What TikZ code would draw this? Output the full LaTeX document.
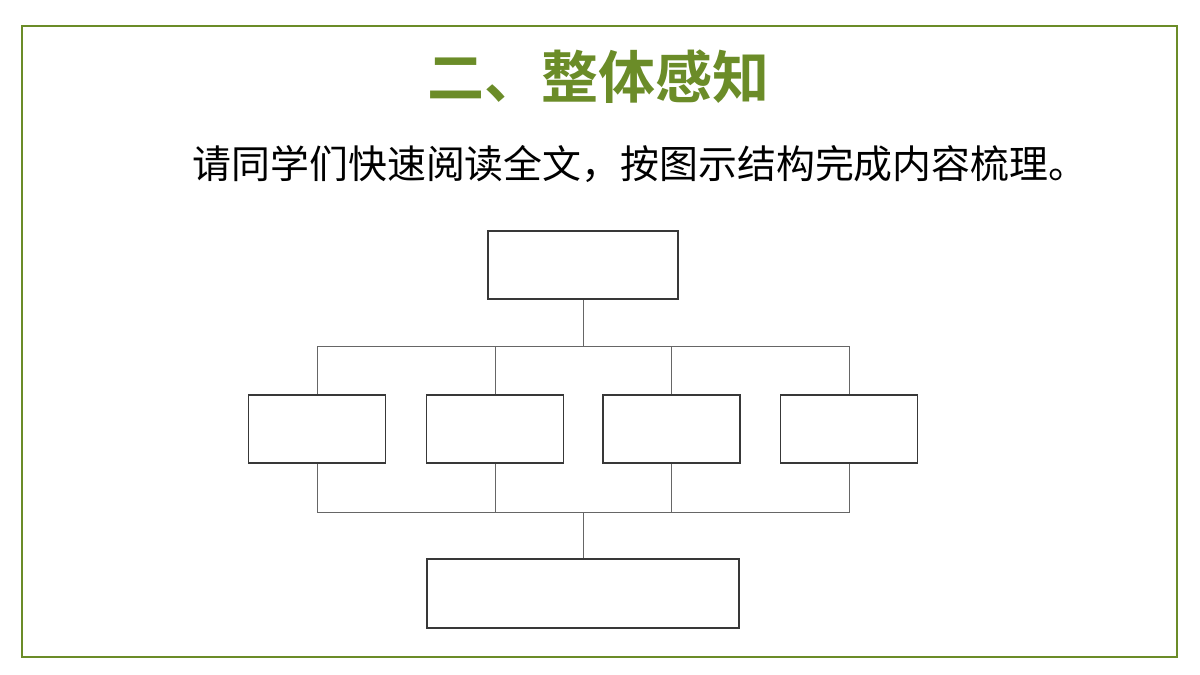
\documentclass[tikz,border=0pt]{standalone}
\usepackage{fontspec}
\newfontfamily\cjksans{Noto Sans CJK SC}
\newfontfamily\cjkbold{Noto Sans CJK SC Bold}
\definecolor{olivegreen}{RGB}{107,140,40}
\tikzset{
  caja/.style={draw=black!78, line width=1.9pt, minimum height=68pt, inner sep=0pt},
  linea/.style={draw=black!60, line width=0.9pt}
}
\begin{document}
\begin{tikzpicture}[x=1pt, y=-1pt]
        \useasboundingbox (0,0) rectangle (1200,675);
        % marco
        \draw[olivegreen, line width=2.5pt] (22,26) rectangle (1177,657);

        % titulo
        \node (titulo) at (598,77) {\cjkbold\fontsize{57}{60}\selectfont\color{olivegreen}二、整体感知};
        \node (consigna) at (640,164) {\cjksans\fontsize{38.9}{42}\selectfont 请同学们快速阅读全文，按图示结构完成内容梳理。};

        % cajas
        \node[caja, minimum width=190pt] (top) at (583,265) {};
        \node[caja, minimum width=137pt] (b1) at (317,429) {};
        \node[caja, minimum width=137pt] (b2) at (495,429) {};
        \node[caja, minimum width=137pt] (b3) at (671.5,429) {};
        \node[caja, minimum width=137pt] (b4) at (849,429) {};
        \node[caja, minimum width=312pt, minimum height=69pt] (bot) at (583,593.5) {};

        % uniones
        \coordinate (j1) at (583,346);
        \coordinate (j2) at (583,512);

        \draw[linea] (top.south) -- (j1);
        \foreach \b in {b1,b2,b3,b4} {
          \draw[linea] (\b.north) |- (j1);
          \draw[linea] (\b.south) |- (j2);
        }
        \draw[linea] (j2) -- (bot.north);

\end{tikzpicture}
\end{document}
